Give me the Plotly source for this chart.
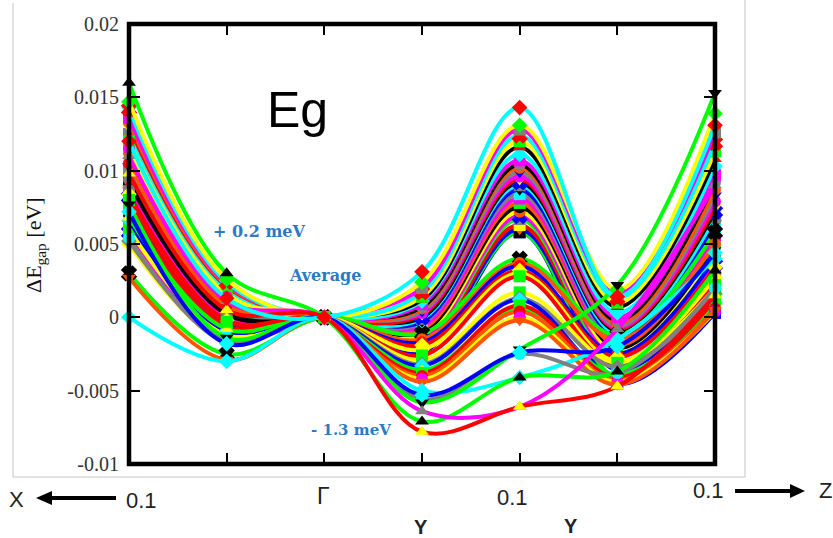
import plotly.graph_objects as go

W, H = 833, 538
L, R, T, B = 129, 715, 24, 464

k_points = [0, 1, 2, 3, 4, 5, 6]
y_ticks = [-0.01, -0.005, 0, 0.005, 0.01, 0.015, 0.02]
y_tick_labels = ["-0.01", "-0.005", "0", "0.005", "0.01", "0.015", "0.02"]

RED, GRN, BLU, MAG, CYA, YEL, BLK, ORG, GRY = ("#ff0000", "#00ff00", "#0000ff", "#ff00ff", "#00ffff",
                                                "#ffff00", "#000000", "#ff5500", "#808080")
UP, DN, DI, SQ, CI, XX = "triangle-up", "triangle-down", "diamond", "square", "circle", "x"

# each series: values at X 0.1, mid, Gamma, mid(Y), 0.1 Y, mid, Z 0.1
s01 = [.0097, .0004, 0, -.0024, .0058, -.0045, .0003]
s02 = [.0092, .0002, 0, -.0021, .0058, -.0041, .0012]
s03 = [.0088, .0000, 0, -.0020, .0060, -.0036, .0018]
s04 = [.0107, .0009, 0, -.0018, .0063, -.0033, .0024]
s05 = [.0100, .0006, 0, -.0016, .0067, -.0030, .0030]
s06 = [.0082, -.0002, 0, -.0014, .0069, -.0027, .0036]
s07 = [.0112, .0012, 0, -.0012, .0072, -.0024, .0042]
s08 = [.0070, -.0008, 0, -.0010, .0075, -.0021, .0048]
s09 = [.0118, .0015, 0, -.0008, .0078, -.0019, .0052]
s10 = [.0062, -.0011, 0, -.0006, .0081, -.0017, .0056]
s11 = [.0122, .0017, 0, -.0004, .0084, -.0015, .0060]
s12 = [.0064, -.0010, 0, -.0003, .0087, -.0013, .0064]
s13 = [.0125, .0018, 0, -.0001, .0090, -.0011, .0068]
s14 = [.0058, -.0013, 0, .0000, .0092, -.0009, .0072]
s15 = [.0130, .0021, 0, .0002, .0094, -.0008, .0075]
s16 = [.0056, -.0014, 0, .0003, .0096, -.0007, .0079]
s17 = [.0103, .0007, 0, .0004, .0099, -.0006, .0083]
s18 = [.0133, .0022, 0, .0006, .0102, -.0004, .0087]
s19 = [.0094, .0003, 0, .0007, .0104, -.0002, .0092]
s20 = [.0136, .0023, 0, .0009, .0107, .0000, .0097]
s21 = [.0143, .0025, 0, .0011, .0111, .0003, .0103]
s22 = [.0090, .0001, 0, .0012, .0116, .0007, .0108]
s23 = [.0120, .0016, 0, .0014, .0120, .0010, .0113]
s24 = [.0142, .0024, 0, .0017, .0124, .0013, .0119]
s25 = [.0086, -.0001, 0, .0020, .0128, .0016, .0126]
s26 = [.0147, .0026, 0, .0024, .0131, .0019, .0139]
s28 = [.0030, -.0025, 0, -.0011, .0040, -.0012, .0058]
s29 = [.0078, -.0004, 0, -.0015, .0037, -.0015, .0050]
s30 = [.0076, -.0005, 0, -.0017, .0035, -.0025, .0040]
s31 = [.0084, -.0002, 0, -.0019, .0032, -.0027, .0034]
s32 = [.0050, -.0016, 0, -.0022, .0030, -.0030, .0027]
s33 = [.0074, -.0006, 0, -.0026, .0028, -.0033, .0022]
s34 = [.0060, -.0012, 0, -.0029, .0017, -.0031, .0020]
s35 = [.0052, -.0015, 0, -.0032, .0013, -.0034, .0016]
s36 = [.0066, -.0009, 0, -.0033, .0012, -.0042, .0010]
s37 = [.0068, -.0008, 0, -.0036, .0006, -.0039, .0008]
s38 = [.0080, -.0003, 0, -.0038, .0008, -.0041, .0012]
s39 = [.0105, .0008, 0, -.0040, .0004, -.0043, .0006]
s40 = [.0115, .0014, 0, -.0042, .0000, -.0044, .0004]
s41 = [.0027, -.0029, 0, -.0044, -.0002, -.0046, .0005]
s42 = [.0000, -.0030, 0, -.0050, -.0041, -.0015, .0040]
s43 = [.0054, -.0017, 0, -.0056, -.0025, -.0038, .0020]
s44 = [.0077, -.0014, 0, -.0058, -.0022, .0022, .0153]
s45 = [.0072, -.0018, 0, -.0053, -.0024, -.0020, .0044]
s46 = [.0160, .0030, 0, -.0071, -.0041, -.0037, .0032]
s47 = [.0110, .0011, 0, -.0064, -.0061, -.0008, .0090]
s48 = [.0098, .0005, 0, -.0078, -.0061, -.0047, .0015]
s27 = [.0120, .0013, 0, .0031, .0143, .0014, .0131]

series = [s01, s02, s03, s04, s05, s06, s07, s08, s09, s10, s11, s12, s13, s14, s15, s16,
          s17, s18, s19, s20, s21, s22, s23, s24, s25, s26, s28, s29, s30, s31, s32,
          s33, s34, s35, s36, s37, s38, s39, s40, s41, s42, s43, s44, s45, s46, s47, s48, s27]
line_colors = [BLU, GRN, BLU, RED, GRN, MAG, YEL, BLK, ORG, MAG, GRY, BLU, CYA, BLK, RED, MAG,
               GRY, ORG, BLK, MAG, CYA, BLK, YEL, CYA, MAG, YEL,
               GRN, ORG, BLU, RED, YEL, RED, YEL, GRY, BLU, GRN, RED, ORG, YEL, ORG,
               CYA, GRY, GRN, BLU, GRN, MAG, RED, CYA]
marker_colors = [BLU, BLK, ORG, YEL, GRY, BLU, ORG, BLK, GRN, MAG, CYA, BLK, GRY, BLU, YEL, MAG,
                 BLU, ORG, GRY, MAG, CYA, RED, GRN, RED, GRY, GRN,
                 BLK, ORG, RED, YEL, YEL, GRN, GRN, GRY, CYA, YEL, GRN, RED, MAG, ORG,
                 CYA, CYA, BLK, CYA, BLK, GRY, YEL, RED]
marker_symbols = [SQ, SQ, DN, SQ, SQ, XX, CI, CI, SQ, SQ, SQ, DN, SQ, XX, DN, CI,
                  DN, CI, CI, SQ, DI, UP, SQ, XX, SQ, DI,
                  XX, CI, CI, DI, DI, SQ, SQ, DI, DI, UP, SQ, CI, CI, DN,
                  DI, CI, DN, DI, UP, UP, UP, DI]

SANS, SERIF = "Liberation Sans", "DejaVu Serif"
BLUE_TXT = "#2a7bc4"
labels = [
    ("Eg", 297, 110, 50, SANS, "#000000", False),
    ("+ 0.2 meV", 259, 231, 16, SERIF, BLUE_TXT, True),
    ("Average", 325, 275, 16, SERIF, BLUE_TXT, True),
    ("- 1.3 meV", 351, 430, 15, SERIF, BLUE_TXT, True),
    ("X", 16, 499, 22, SANS, "#222222", False),
    ("0.1", 141, 500, 22, SANS, "#222222", False),
    ("Γ", 323, 496, 23, SANS, "#222222", False),
    ("0.1", 512, 497, 22, SANS, "#222222", False),
    ("0.1", 708, 491, 22, SANS, "#222222", False),
    ("Z", 825, 491, 22, SANS, "#222222", False),
    ("Y", 421, 527, 20, SANS, "#222222", True),
    ("Y", 571, 526, 20, SANS, "#222222", True),
]


def px(x):
    return (x - L) / (R - L)


def py(y):
    return (B - y) / (B - T)


def poly(points):
    return "M " + " L ".join(f"{px(x):.5f},{py(y):.5f}" for x, y in points) + " Z"


fig = go.Figure()
for v, lc, mc, sym in zip(series, line_colors, marker_colors, marker_symbols):
    fig.add_trace(go.Scatter(
        x=k_points, y=v, mode="lines+markers", cliponaxis=False, showlegend=False,
        line=dict(color=lc, width=4, shape="spline", smoothing=1.0),
        marker=dict(color=mc, symbol=sym, size=12,
                    line=dict(color=mc, width=2 if sym == XX else 0)),
    ))

fig.update_layout(
    width=W, height=H, autosize=False, paper_bgcolor="white", plot_bgcolor="white",
    margin=dict(l=L, r=W - R, t=T, b=H - B, pad=0),
    font=dict(family="Liberation Serif", color="#222222"),
    xaxis=dict(range=[0, 6], tickvals=k_points, showticklabels=False, ticks="inside", ticklen=11,
               tickwidth=2, tickcolor="black", showline=False, mirror="allticks",
               showgrid=False, zeroline=False),
    yaxis=dict(range=[-0.01, 0.02], tickvals=y_ticks, ticktext=y_tick_labels, ticks="inside",
               ticklen=11, tickwidth=2, tickcolor="black", showline=False, mirror="allticks",
               showgrid=False, zeroline=False, ticklabelstandoff=9,
               tickfont=dict(family="Liberation Serif", size=20, color="#333333")),
)

for text, x, y, size, fam, col, bold in labels:
    fig.add_annotation(text=f"<b>{text}</b>" if bold else text, xref="paper", yref="paper",
                       x=px(x), y=py(y), xanchor="center", yanchor="middle", showarrow=False,
                       font=dict(size=size, family=fam, color=col))

fig.add_annotation(text="ΔE<sub>gap</sub> [eV]", xref="paper", yref="paper", x=px(35), y=py(245),
                   textangle=-90, xanchor="center", yanchor="middle", showarrow=False,
                   font=dict(size=22, family="Liberation Serif", color="#111111"))

# frame drawn over the curves
fig.add_shape(type="rect", xref="paper", yref="paper", x0=0, x1=1, y0=0, y1=1,
              line=dict(color="black", width=4.5), layer="above")

# direction arrows
arrow_left = [(116, 496), (52, 496), (52, 491), (36, 498), (52, 505), (52, 500), (116, 500)]
arrow_right = [(735, 489), (790, 489), (790, 484), (805, 491), (790, 498), (790, 493), (735, 493)]
for pts in (arrow_left, arrow_right):
    fig.add_shape(type="path", xref="paper", yref="paper", path=poly(pts),
                  fillcolor="black", line=dict(color="black", width=0), layer="above")

# pale picture frame
for x0, y0, x1, y1 in [(13, 3, 13, 477), (13, 477, 745, 477), (745, 0, 745, 477)]:
    fig.add_shape(type="line", xref="paper", yref="paper", x0=px(x0), x1=px(x1), y0=py(y0), y1=py(y1),
                  line=dict(color="#c4c4c4", width=1), layer="below")

fig.write_html("out.html", config={"displayModeBar": False},
               post_script="document.body.style.margin='0';document.body.style.overflow='hidden';")
